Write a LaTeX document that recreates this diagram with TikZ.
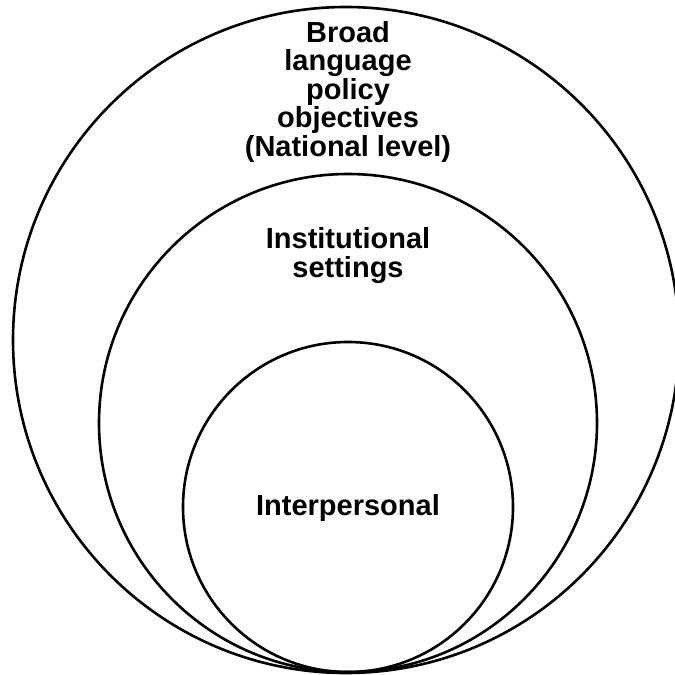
\documentclass[tikz,border=0pt]{standalone}
\usepackage{fontspec}
\setmainfont{Liberation Sans}
\begin{document}
\begin{tikzpicture}[x=1pt,y=-1pt,
  ring/.style={draw=black,line width=2.6pt},
  label/.style={font=\bfseries\fontsize{29}{28.5}\selectfont,align=center,inner sep=0pt,anchor=base}]
  \clip (0,0) rectangle (675,675);
  \fill[white] (0,0) rectangle (675,675);
  % three nested circles, all touching at the bottom
  \draw[ring] (346,340) circle[radius=333];
  \draw[ring] (348,423) circle[radius=249];
  \draw[ring] (348,507) circle[radius=165];
  % level labels (anchored at the baseline of their last line)
  \node[label] (national) at (348,156) {Broad\\language\\policy\\objectives\\(National level)};
  \node[label] (institutional) at (348,277) {Institutional\\settings};
  \node[label] (interpersonal) at (348,515) {Interpersonal};
\end{tikzpicture}
\end{document}
